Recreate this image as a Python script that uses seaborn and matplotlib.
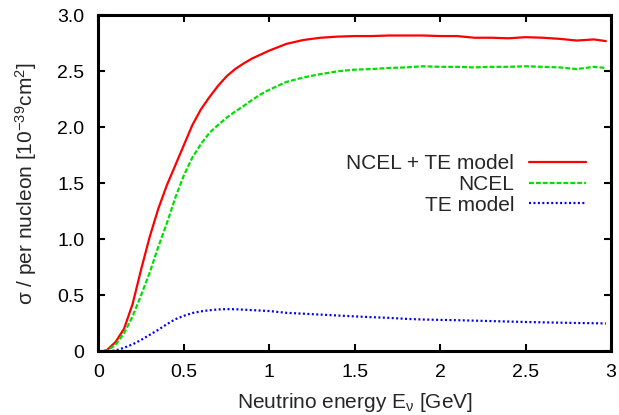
import matplotlib
matplotlib.use("Agg")
import matplotlib.pyplot as plt
import seaborn as sns
import pandas as pd

energy = [0.03, 0.05, 0.1, 0.15, 0.2, 0.25, 0.3, 0.35, 0.4, 0.45, 0.5, 0.55, 0.6, 0.65,
          0.7, 0.75, 0.8, 0.85, 0.9, 0.95, 1.0, 1.1, 1.2, 1.3, 1.4, 1.5, 1.6, 1.7, 1.8,
          1.9, 2.0, 2.1, 2.2, 2.3, 2.4, 2.5, 2.6, 2.7, 2.8, 2.9, 2.97]

ncel_te = [0.0, 0.01, 0.08, 0.2, 0.42, 0.73, 1.02, 1.27, 1.48, 1.66, 1.84, 2.02, 2.16, 2.27,
           2.37, 2.455, 2.52, 2.57, 2.615, 2.65, 2.685, 2.745, 2.78, 2.80, 2.81, 2.815, 2.815,
           2.82, 2.82, 2.82, 2.815, 2.815, 2.80, 2.80, 2.795, 2.805, 2.80, 2.79, 2.775, 2.785, 2.77]

ncel = [0.0, 0.005, 0.055, 0.16, 0.31, 0.50, 0.70, 0.93, 1.14, 1.37, 1.57, 1.73, 1.85, 1.95,
        2.02, 2.085, 2.14, 2.19, 2.245, 2.295, 2.335, 2.405, 2.445, 2.475, 2.50, 2.515, 2.52,
        2.53, 2.535, 2.545, 2.54, 2.54, 2.535, 2.54, 2.54, 2.545, 2.54, 2.535, 2.52, 2.54, 2.53]

te_model = [0.0, 0.0, 0.005, 0.03, 0.06, 0.10, 0.145, 0.19, 0.24, 0.285, 0.315, 0.34, 0.355,
            0.365, 0.372, 0.375, 0.374, 0.37, 0.366, 0.362, 0.358, 0.342, 0.334, 0.326, 0.318,
            0.31, 0.303, 0.297, 0.288, 0.282, 0.279, 0.276, 0.272, 0.268, 0.264, 0.26, 0.257,
            0.254, 0.251, 0.249, 0.247]

series_labels = ["NCEL + TE model", "NCEL", "TE model"]
x_ticks = [0, 0.5, 1, 1.5, 2, 2.5, 3]
x_tick_labels = ["0", "0.5", "1", "1.5", "2", "2.5", "3"]
y_ticks = [0, 0.5, 1.0, 1.5, 2.0, 2.5, 3.0]
y_tick_labels = ["0", "0.5", "1.0", "1.5", "2.0", "2.5", "3.0"]

df = pd.DataFrame({"E": energy, series_labels[0]: ncel_te,
                   series_labels[1]: ncel, series_labels[2]: te_model})

sns.set_style("ticks")
plt.rcParams["font.family"] = ["Liberation Sans", "DejaVu Sans"]
plt.rcParams["mathtext.fontset"] = "custom"
plt.rcParams["mathtext.rm"] = "Liberation Sans"
plt.rcParams["mathtext.it"] = "Liberation Sans"
plt.rcParams["mathtext.default"] = "regular"

fig = plt.figure(figsize=(6.19, 4.15), dpi=100)
ax = fig.add_axes([0.159, 0.154, 0.828, 0.809])

styles = [
    dict(color="#ff0000", linestyle="-"),
    dict(color="#00e000", linestyle=(0, (2.2, 0.9))),
    dict(color="#0000ff", linestyle=(0, (0.9, 1.1))),
]
for lab, st in zip(series_labels, styles):
    sns.lineplot(data=df, x="E", y=lab, ax=ax, label=lab, linewidth=1.6, **st)

ax.set_xlim(0, 3)
ax.set_ylim(0, 3)
ax.set_xticks(x_ticks)
ax.set_xticklabels(x_tick_labels)
ax.set_yticks(y_ticks)
ax.set_yticklabels(y_tick_labels)
ax.tick_params(direction="in", length=5, width=1.5, top=True, right=True,
               labelsize=14, colors="black")
ax.tick_params(axis="y", pad=10)
ax.tick_params(axis="x", pad=9)
for sp in ax.spines.values():
    sp.set_linewidth(2.2)
    sp.set_color("black")

ax.set_xlabel(r"Neutrino energy E$_{\nu}$ [GeV]", fontsize=15)
ax.set_ylabel(r"σ / per nucleon [10$^{-39}$cm$^{2}$]", fontsize=15)
ax.xaxis.set_label_coords(0.5, -0.118)
ax.yaxis.set_label_coords(-0.116, 0.5)

leg = ax.legend(loc="upper right", bbox_to_anchor=(0.951, 0.586), frameon=False,
                markerfirst=False, fontsize=15, handlelength=2.74, handletextpad=0.7,
                labelspacing=0.08, borderaxespad=0, borderpad=0)

fig.savefig("out.png", dpi=100)
